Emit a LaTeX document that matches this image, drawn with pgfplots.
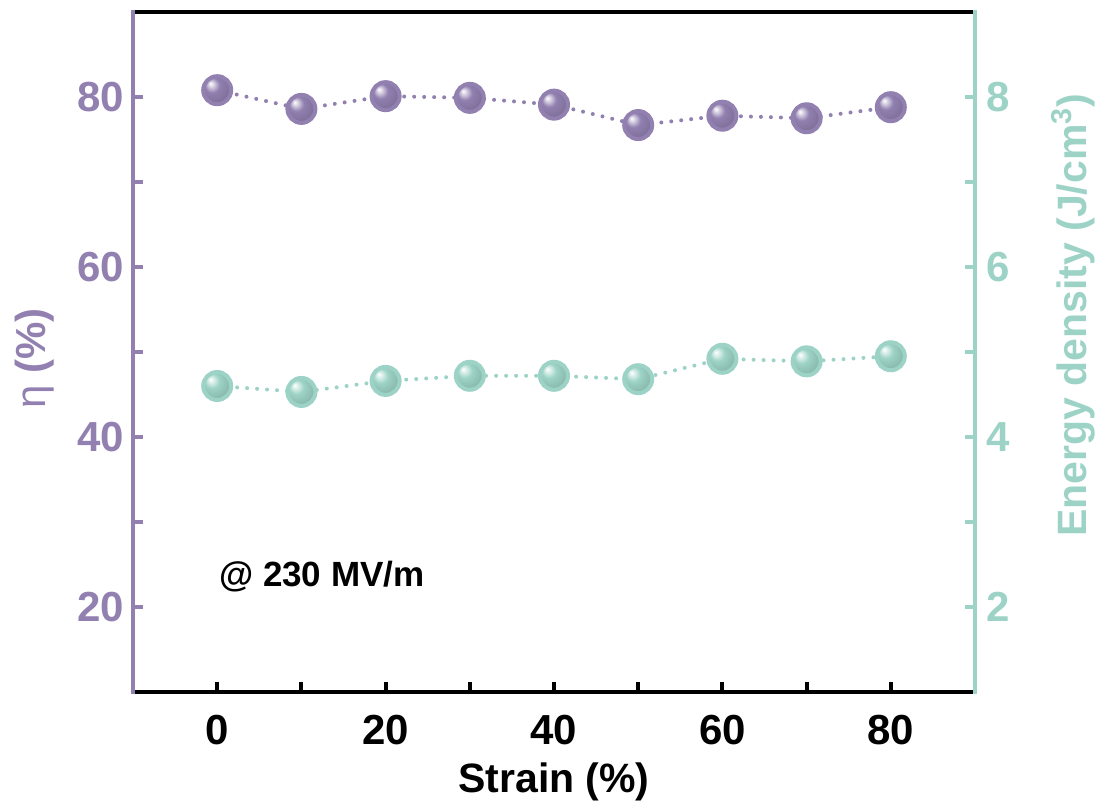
\documentclass[border=0pt]{standalone}
\usepackage{pgfplots}
\pgfplotsset{compat=1.18}
\usepackage{fontspec}
\setmainfont{Liberation Sans}
\definecolor{pcol}{RGB}{145,128,176}
\definecolor{tcol}{RGB}{157,211,198}
\makeatletter
\pgfdeclareradialshading[tikz@ball]{ball}{\pgfqpoint{-12bp}{12bp}}{%
  color(0bp)=(tikz@ball!0!white);
  color(6bp)=(tikz@ball!45!white);
  color(13bp)=(tikz@ball);
  color(25bp)=(tikz@ball!90!black);
  color(50bp)=(tikz@ball!75!black)}
\makeatother
\pgfplotstableread{
x y
0 80.8
10 78.6
20 80.1
30 79.9
40 79.1
50 76.7
60 77.8
70 77.5
80 78.8
}\etatable
\pgfplotstableread{
x y
0 4.60
10 4.53
20 4.66
30 4.72
40 4.72
50 4.68
60 4.92
70 4.89
80 4.95
}\energytable
\begin{document}
\begin{tikzpicture}
\useasboundingbox (-66.5pt,-57pt) rectangle (483.5pt,346pt);
\pgfplotsset{
  every axis/.append style={
    scale only axis, width=421pt, height=340pt,
    xmin=-10, xmax=90,
    tick align=inside, major tick length=5pt,
    every tick/.style={line width=2pt},
    axis line style={draw=none},
    /pgf/number format/assume math mode=true,
    tick label style={font=\fontsize{21}{25}\selectfont\bfseries},
    clip=false,
  }
}
\begin{axis}[
  ymin=10, ymax=90,
  xtick={0,10,...,80}, xticklabels={0,,20,,40,,60,,80},
  ytick={20,30,...,80}, yticklabels={20,,40,,60,,80},
  xtick pos=bottom, ytick pos=left,
  xtick style={black}, ytick style={pcol},
  yticklabel style={text=pcol, xshift=-1pt},
  xticklabel style={yshift=-8pt},
]
\draw[black, line width=2pt] (rel axis cs:0,0) -- (rel axis cs:1,0);
\draw[black, line width=2pt] (rel axis cs:0,1) -- (rel axis cs:1,1);
\addplot[pcol, line width=2pt, dash pattern=on 0pt off 5pt, line cap=round,
  mark=ball, mark size=7pt, mark options={solid, draw=none, ball color=pcol}]
  table[x=x, y=y] {\etatable};
\node[anchor=west, font=\fontsize{17.5}{21}\selectfont\bfseries] at (axis cs:-0.6,23.6) {@ 230 MV/m};
\node[anchor=center, font=\fontsize{20.5}{24}\selectfont\bfseries] at ([yshift=-45pt]rel axis cs:0.5,0) {Strain (\%)};
\node[rotate=90, anchor=center, text=pcol, font=\fontsize{21}{24}\selectfont\bfseries] at ([xshift=-49pt]rel axis cs:0,0.49) {{\mdseries η} (\%)};
\end{axis}
\begin{axis}[
  ymin=1, ymax=9,
  axis x line=none,
  axis y line*=right,
  ytick={2,3,...,8}, yticklabels={2,,4,,6,,8},
  ytick style={tcol},
  yticklabel style={text=tcol, xshift=2pt},
]
\addplot[tcol, line width=2pt, dash pattern=on 0pt off 5pt, line cap=round,
  mark=ball, mark size=7pt, mark options={solid, draw=none, ball color=tcol}]
  table[x=x, y=y] {\energytable};
\draw[pcol, line width=2pt] (rel axis cs:0,-0.003) -- (rel axis cs:0,1.003);
\draw[tcol, line width=2pt] (rel axis cs:1,-0.003) -- (rel axis cs:1,1.003);
\node[rotate=90, anchor=center, text=tcol, font=\fontsize{20.5}{24}\selectfont\bfseries] at ([xshift=49pt]rel axis cs:1,0.554) {Energy density (J/cm$^{\mathbf{3}}$)};
\end{axis}
\end{tikzpicture}
\end{document}
